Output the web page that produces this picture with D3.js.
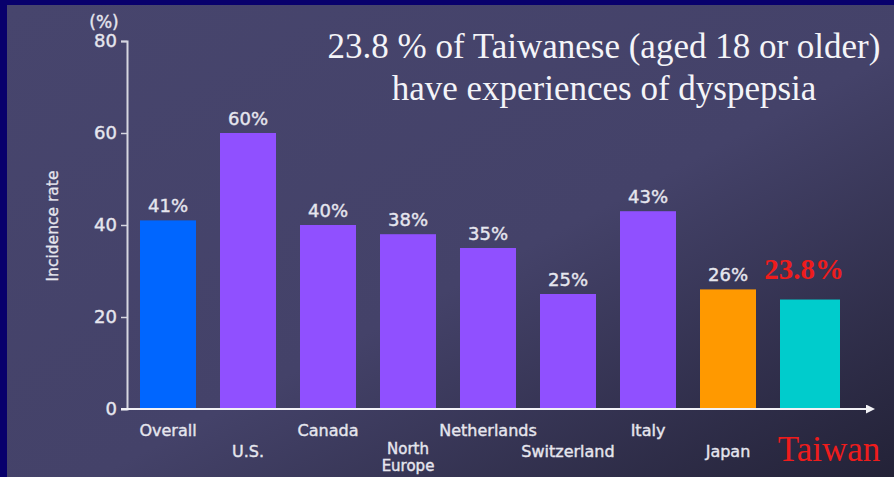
<!DOCTYPE html>
<html>
<head>
<meta charset="utf-8">
<script src="https://cdn.jsdelivr.net/npm/d3@7"></script>
<style>
  body { margin: 0; background: #08006c; }
  svg { display: block; }
</style>
</head>
<body>
<div id="container"></div>
<script>
/* CONSTANTS AND GLOBALS */
const width = 894;
const height = 477;

// DATA
const countries = ["Overall", "U.S.", "Canada", "North Europe", "Netherlands", "Switzerland", "Italy", "Japan", "Taiwan"];
const rates = [41, 60, 40, 38, 35, 25, 43, 26, 23.8];
const rateLabels = ["41%", "60%", "40%", "38%", "35%", "25%", "43%", "26%", "23.8%"];
const barColors = ["#0066ff", "#9050ff", "#9050ff", "#9050ff", "#9050ff", "#9050ff", "#9050ff", "#ff9900", "#00cccc"];
const yTicks = [0, 20, 40, 60, 80];
const titleLines = ["23.8 % of Taiwanese (aged 18 or older)", "have experiences of dyspepsia"];

const data = countries.map((c, i) => ({ country: c, rate: rates[i], label: rateLabels[i], color: barColors[i] }));

const sans = "DejaVu Sans, Verdana, sans-serif";
const serif = "Liberation Serif, Times New Roman, serif";

const svg = d3.select("#container")
  .append("svg")
  .attr("width", width)
  .attr("height", height);

// background gradient panel
const defs = svg.append("defs");
const grad = defs.append("linearGradient")
  .attr("id", "bg")
  .attr("x1", 0).attr("y1", 0)
  .attr("x2", 1).attr("y2", 1);
grad.selectAll("stop")
  .data([
    {offset: "0%", color: "#47456d"},
    {offset: "55%", color: "#444269"},
    {offset: "100%", color: "#232237"}
  ])
  .join("stop")
  .attr("offset", d => d.offset)
  .attr("stop-color", d => d.color);

svg.append("rect").attr("width", width).attr("height", height).attr("fill", "#08006c");
svg.append("rect")
  .attr("x", 7).attr("y", 5)
  .attr("width", width - 7).attr("height", height - 5)
  .attr("fill", "url(#bg)");

// scales
const xScale = d3.scaleBand()
  .domain(countries)
  .range([128, 848])
  .paddingInner(0.3)
  .paddingOuter(0.15);

const yScale = d3.scaleLinear()
  .domain([0, 80])
  .range([409, 41]);

const axisColor = "#d6d6e0";
const textColor = "#e6e6ee";

// bars
svg.selectAll(".bar")
  .data(data)
  .join("rect")
  .attr("class", "bar")
  .attr("x", d => xScale(d.country))
  .attr("y", d => yScale(d.rate))
  .attr("width", d => d.country === "Taiwan" ? xScale.bandwidth() + 4 : xScale.bandwidth())
  .attr("height", d => yScale(0) - yScale(d.rate))
  .attr("fill", d => d.color);

// y axis
const yAxis = d3.axisLeft(yScale)
  .tickValues(yTicks)
  .tickSize(6)
  .tickPadding(4);
const gy = svg.append("g")
  .attr("transform", "translate(127,0)")
  .call(yAxis);
gy.select(".domain").attr("stroke", axisColor).attr("stroke-width", 2);
gy.selectAll(".tick line").attr("stroke", axisColor).attr("stroke-width", 1.5);
gy.selectAll(".tick text")
  .attr("fill", textColor)
  .attr("stroke", textColor)
  .attr("stroke-width", 0.4)
  .style("font-family", sans)
  .style("font-size", "18px");

// x axis line with arrow
defs.append("marker")
  .attr("id", "arrow")
  .attr("viewBox", "0 0 10 10")
  .attr("refX", 0).attr("refY", 5)
  .attr("markerWidth", 4.5).attr("markerHeight", 4.5)
  .attr("orient", "auto")
  .append("path")
  .attr("d", "M0,0L10,5L0,10z")
  .attr("fill", "#f2f2f6");

svg.append("line")
  .attr("x1", 121).attr("x2", 866)
  .attr("y1", yScale(0)).attr("y2", yScale(0))
  .attr("stroke", "#f2f2f6")
  .attr("stroke-width", 2)
  .attr("marker-end", "url(#arrow)");

// (%) label
svg.append("text")
  .attr("x", 104).attr("y", 28)
  .attr("text-anchor", "middle")
  .attr("fill", textColor)
  .attr("stroke", textColor)
  .attr("stroke-width", 0.4)
  .style("font-family", sans)
  .style("font-size", "17px")
  .text("(%)");

// Y Label
svg.append("text")
  .attr("transform", "translate(58,226) rotate(-90)")
  .attr("text-anchor", "middle")
  .attr("fill", textColor)
  .attr("stroke", textColor)
  .attr("stroke-width", 0.3)
  .style("font-family", sans)
  .style("font-size", "15.5px")
  .text("Incidence rate");

// value labels
svg.selectAll(".vlabel")
  .data(data)
  .join("text")
  .attr("class", "vlabel")
  .attr("x", d => xScale(d.country) + xScale.bandwidth() / 2 + (d.country === "Taiwan" ? -4 : 0))
  .attr("y", d => d.country === "Taiwan" ? yScale(d.rate) - 21 : yScale(d.rate) - 8)
  .attr("text-anchor", "middle")
  .attr("fill", d => d.country === "Taiwan" ? "#ee1c1c" : textColor)
  .attr("stroke", d => d.country === "Taiwan" ? "none" : textColor)
  .attr("stroke-width", 0.4)
  .style("font-family", d => d.country === "Taiwan" ? serif : sans)
  .style("font-size", d => d.country === "Taiwan" ? "29px" : "18px")
  .style("font-weight", d => d.country === "Taiwan" ? "bold" : "normal")
  .text(d => d.label);

// category labels (staggered)
const catLabels = svg.selectAll(".clabel")
  .data(data)
  .join("text")
  .attr("class", "clabel")
  .attr("x", d => xScale(d.country) + xScale.bandwidth() / 2 + (d.country === "Taiwan" ? 21 : 0))
  .attr("y", (d, i) => d.country === "Taiwan" ? 461 : d.country === "North Europe" ? 454 : (i % 2 === 0 ? 436 : 457))
  .attr("text-anchor", "middle")
  .attr("fill", d => d.country === "Taiwan" ? "#ee1c1c" : textColor)
  .attr("stroke", d => d.country === "Taiwan" ? "none" : textColor)
  .attr("stroke-width", 0.4)
  .style("font-family", d => d.country === "Taiwan" ? serif : sans)
  .style("font-size", d => d.country === "Taiwan" ? "35px" : d.country === "North Europe" ? "15px" : "16px");

catLabels.each(function(d) {
  const words = d.country === "North Europe" ? ["North", "Europe"] : [d.country];
  const t = d3.select(this);
  words.forEach((w, k) => {
    t.append("tspan")
      .attr("x", t.attr("x"))
      .attr("dy", k === 0 ? 0 : 17)
      .text(w);
  });
});

// title
svg.selectAll(".title")
  .data(titleLines)
  .join("text")
  .attr("class", "title")
  .attr("x", 604)
  .attr("y", (d, i) => 58 + i * 42)
  .attr("text-anchor", "middle")
  .attr("fill", "#f4f4f8")
  .style("font-family", serif)
  .style("font-size", "35px")
  .text(d => d);
</script>
</body>
</html>
